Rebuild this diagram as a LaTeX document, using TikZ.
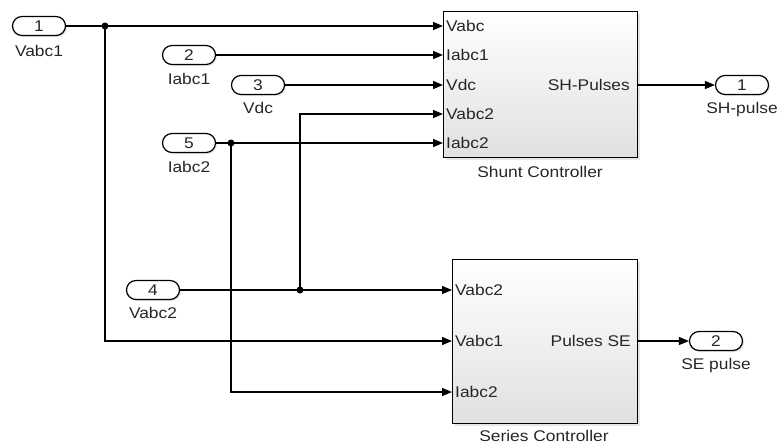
\documentclass[tikz,border=0pt]{standalone}
\usepackage{fontspec}
\setmainfont{Liberation Sans}[FakeStretch=1.12]
\usetikzlibrary{arrows.meta,shadows}

\begin{document}
\begin{tikzpicture}[x=1pt,y=1pt,
  every node/.style={font=\fontsize{15.5}{18}\selectfont,text=black!85},
  port/.style={draw,line width=1.2pt,rounded corners=9.5pt,minimum width=53pt,minimum height=19pt,
    inner sep=0pt,fill=white,drop shadow={opacity=0.2,shadow xshift=1.5pt,shadow yshift=-1.5pt}},
  block/.style={draw,line width=1.3pt,anchor=north west,inner sep=0pt,top color=white,bottom color=black!12,
    drop shadow={opacity=0.2,shadow xshift=2pt,shadow yshift=-2pt}},
  wire/.style={line width=1.3pt},
  sig/.style={wire,-{Triangle[length=10pt,width=8pt]}},
  pin/.style={inner sep=1pt,anchor=west},
  pout/.style={inner sep=1pt,anchor=east}]
\useasboundingbox (0,0) rectangle (780,-445);
% subsystems:
\node[block,minimum width=194pt,minimum height=146pt] (shunt) at (443,-11) {};
\node (shunt-lbl) at (540,-172) {Shunt Controller};
\node[block,minimum width=185pt,minimum height=164pt] (series) at (452,-259) {};
\node (series-lbl) at (544,-436) {Series Controller};
% ports of the subsystems:
\coordinate (sh1) at (443,-26);
\coordinate (sh2) at (443,-55);
\coordinate (sh3) at (443,-85);
\coordinate (sh4) at (443,-114);
\coordinate (sh5) at (443,-143);
\coordinate (shout) at (637,-85);
\node[pin] at ([xshift=2pt]sh1) {Vabc};
\node[pin] at ([xshift=2pt]sh2) {Iabc1};
\node[pin] at ([xshift=2pt]sh3) {Vdc};
\node[pin] at ([xshift=2pt]sh4) {Vabc2};
\node[pin] at ([xshift=2pt]sh5) {Iabc2};
\node[pout] at ([xshift=-6pt]shout) {SH-Pulses};
\coordinate (se1) at (452,-290);
\coordinate (se2) at (452,-341);
\coordinate (se3) at (452,-392);
\coordinate (seout) at (637,-341);
\node[pin] at ([xshift=2pt]se1) {Vabc2};
\node[pin] at ([xshift=2pt]se2) {Vabc1};
\node[pin] at ([xshift=2pt]se3) {Iabc2};
\node[pout] at ([xshift=-5pt]seout) {Pulses SE};
% inports:
\node[port] (in1) at (39,-26) {1};
\node (in1-lbl) at (39,-51) {Vabc1};
\node[port] (in2) at (189,-55) {2};
\node (in2-lbl) at (189,-79) {Iabc1};
\node[port] (in3) at (258,-85) {3};
\node (in3-lbl) at (258,-108) {Vdc};
\node[port] (in5) at (189,-143) {5};
\node (in5-lbl) at (189,-167) {Iabc2};
\node[port] (in4) at (153,-290) {4};
\node (in4-lbl) at (153,-313) {Vabc2};
% outports:
\node[port] (out1) at (742,-85) {1};
\node (out1-lbl) at (742,-109) {SH-pulse};
\node[port] (out2) at (716,-341) {2};
\node (out2-lbl) at (716,-365) {SE pulse};
% branch points:
\coordinate (j1) at (105,-26);
\coordinate (j5) at (231,-143);
\coordinate (j4) at (300,-290);
% lines:
\draw[sig] (in1) -- (sh1);
\draw[sig] (j1) |- (se2);
\draw[sig] (in2) -- (sh2);
\draw[sig] (in3) -- (sh3);
\draw[sig] (in5) -- (sh5);
\draw[sig] (j5) |- (se3);
\draw[sig] (in4) -- (se1);
\draw[sig] (j4) |- (sh4);
\draw[sig] (shout) -- (out1);
\draw[sig] (seout) -- (out2);
\foreach \j in {j1,j5,j4} \fill (\j) circle (3.5pt);
\end{tikzpicture}
\end{document}
